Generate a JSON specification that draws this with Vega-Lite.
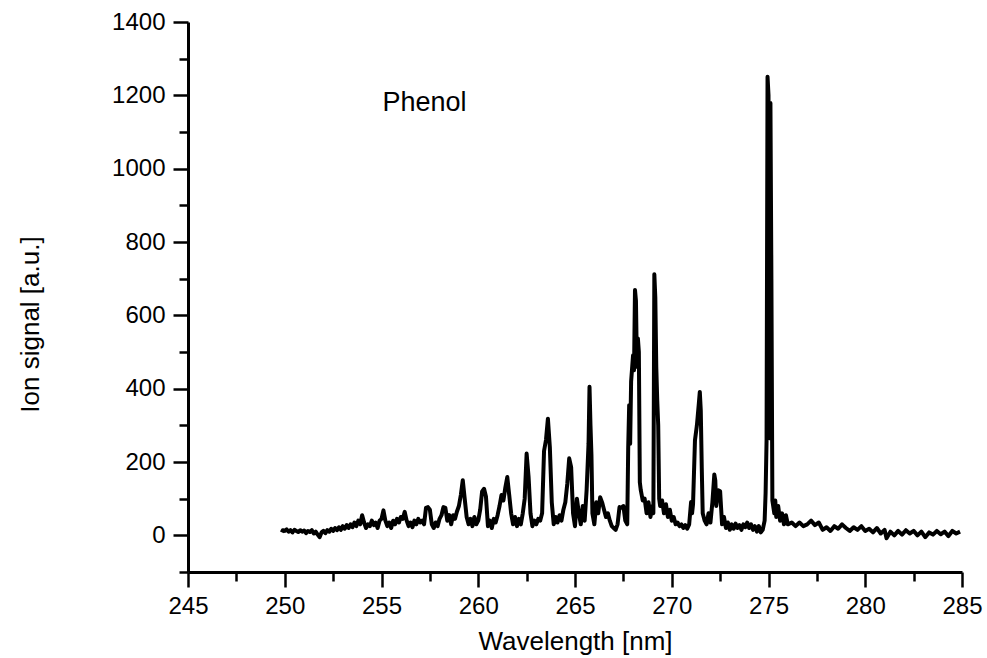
{
  "$schema": "https://vega.github.io/schema/vega-lite/v6.json",
  "width": 774,
  "height": 550,
  "autosize": {"type": "none"},
  "padding": {"left": 188, "top": 22, "right": 25, "bottom": 86},
  "background": "white",
  "config": {
    "view": {"stroke": null},
    "axis": {
      "grid": false,
      "domainColor": "black",
      "domainWidth": 3,
      "tickColor": "black",
      "tickWidth": 2.5,
      "labelColor": "black",
      "labelFont": "Liberation Sans",
      "labelFontSize": 24,
      "titleFont": "Liberation Sans",
      "titleFontSize": 26,
      "titleFontWeight": "normal",
      "titleColor": "black"
    }
  },
  "datasets": {
    "spectrum": [
      {"wl": 249.85, "signal": 8}, {"wl": 249.9, "signal": 14}, {"wl": 250.0, "signal": 12}, {"wl": 250.1, "signal": 16},
      {"wl": 250.2, "signal": 10}, {"wl": 250.3, "signal": 14}, {"wl": 250.4, "signal": 8}, {"wl": 250.5, "signal": 15},
      {"wl": 250.6, "signal": 12}, {"wl": 250.7, "signal": 9}, {"wl": 250.8, "signal": 14}, {"wl": 250.9, "signal": 10},
      {"wl": 251.0, "signal": 13}, {"wl": 251.1, "signal": 6}, {"wl": 251.2, "signal": 12}, {"wl": 251.3, "signal": 9},
      {"wl": 251.4, "signal": 14}, {"wl": 251.5, "signal": 5}, {"wl": 251.6, "signal": 10}, {"wl": 251.7, "signal": 2},
      {"wl": 251.8, "signal": -5}, {"wl": 251.9, "signal": 8}, {"wl": 252.0, "signal": 12}, {"wl": 252.1, "signal": 6},
      {"wl": 252.2, "signal": 14}, {"wl": 252.3, "signal": 10}, {"wl": 252.4, "signal": 18}, {"wl": 252.5, "signal": 12},
      {"wl": 252.6, "signal": 20}, {"wl": 252.7, "signal": 14}, {"wl": 252.8, "signal": 22}, {"wl": 252.9, "signal": 15},
      {"wl": 253.0, "signal": 25}, {"wl": 253.1, "signal": 18}, {"wl": 253.2, "signal": 28}, {"wl": 253.3, "signal": 20},
      {"wl": 253.4, "signal": 30}, {"wl": 253.5, "signal": 22}, {"wl": 253.6, "signal": 35}, {"wl": 253.7, "signal": 25},
      {"wl": 253.8, "signal": 40}, {"wl": 253.9, "signal": 30}, {"wl": 254.0, "signal": 55}, {"wl": 254.1, "signal": 35},
      {"wl": 254.2, "signal": 20}, {"wl": 254.3, "signal": 30}, {"wl": 254.4, "signal": 25}, {"wl": 254.5, "signal": 40},
      {"wl": 254.6, "signal": 28}, {"wl": 254.7, "signal": 35}, {"wl": 254.8, "signal": 20}, {"wl": 254.9, "signal": 40},
      {"wl": 255.0, "signal": 45}, {"wl": 255.1, "signal": 68}, {"wl": 255.2, "signal": 40}, {"wl": 255.3, "signal": 25},
      {"wl": 255.4, "signal": 35}, {"wl": 255.5, "signal": 20}, {"wl": 255.6, "signal": 40}, {"wl": 255.7, "signal": 30},
      {"wl": 255.8, "signal": 45}, {"wl": 255.9, "signal": 35}, {"wl": 256.0, "signal": 50}, {"wl": 256.1, "signal": 45},
      {"wl": 256.2, "signal": 64}, {"wl": 256.3, "signal": 40}, {"wl": 256.4, "signal": 25}, {"wl": 256.5, "signal": 35},
      {"wl": 256.6, "signal": 22}, {"wl": 256.7, "signal": 40}, {"wl": 256.8, "signal": 30}, {"wl": 256.9, "signal": 45},
      {"wl": 257.0, "signal": 35}, {"wl": 257.1, "signal": 40}, {"wl": 257.2, "signal": 30}, {"wl": 257.3, "signal": 75},
      {"wl": 257.4, "signal": 77}, {"wl": 257.5, "signal": 70}, {"wl": 257.6, "signal": 30}, {"wl": 257.7, "signal": 20},
      {"wl": 257.8, "signal": 35}, {"wl": 257.9, "signal": 25}, {"wl": 258.0, "signal": 45}, {"wl": 258.1, "signal": 55},
      {"wl": 258.2, "signal": 77}, {"wl": 258.3, "signal": 75}, {"wl": 258.4, "signal": 40}, {"wl": 258.5, "signal": 55},
      {"wl": 258.6, "signal": 30}, {"wl": 258.7, "signal": 55}, {"wl": 258.8, "signal": 45}, {"wl": 258.9, "signal": 65},
      {"wl": 259.0, "signal": 80}, {"wl": 259.1, "signal": 110}, {"wl": 259.2, "signal": 150}, {"wl": 259.3, "signal": 100},
      {"wl": 259.4, "signal": 50}, {"wl": 259.5, "signal": 30}, {"wl": 259.6, "signal": 45}, {"wl": 259.7, "signal": 25},
      {"wl": 259.8, "signal": 50}, {"wl": 259.9, "signal": 30}, {"wl": 260.0, "signal": 40}, {"wl": 260.1, "signal": 70},
      {"wl": 260.2, "signal": 120}, {"wl": 260.3, "signal": 127}, {"wl": 260.4, "signal": 105}, {"wl": 260.5, "signal": 25},
      {"wl": 260.6, "signal": 40}, {"wl": 260.7, "signal": 20}, {"wl": 260.8, "signal": 45}, {"wl": 260.9, "signal": 35},
      {"wl": 261.0, "signal": 55}, {"wl": 261.1, "signal": 80}, {"wl": 261.2, "signal": 110}, {"wl": 261.3, "signal": 95},
      {"wl": 261.4, "signal": 130}, {"wl": 261.5, "signal": 159}, {"wl": 261.6, "signal": 110}, {"wl": 261.7, "signal": 60},
      {"wl": 261.8, "signal": 30}, {"wl": 261.9, "signal": 50}, {"wl": 262.0, "signal": 25}, {"wl": 262.1, "signal": 45},
      {"wl": 262.2, "signal": 30}, {"wl": 262.3, "signal": 60}, {"wl": 262.4, "signal": 100}, {"wl": 262.5, "signal": 223},
      {"wl": 262.6, "signal": 160}, {"wl": 262.7, "signal": 60}, {"wl": 262.8, "signal": 25}, {"wl": 262.9, "signal": 40},
      {"wl": 263.0, "signal": 30}, {"wl": 263.1, "signal": 45}, {"wl": 263.2, "signal": 40}, {"wl": 263.3, "signal": 60},
      {"wl": 263.4, "signal": 230}, {"wl": 263.5, "signal": 260}, {"wl": 263.6, "signal": 318}, {"wl": 263.7, "signal": 240},
      {"wl": 263.8, "signal": 90}, {"wl": 263.9, "signal": 30}, {"wl": 264.0, "signal": 50}, {"wl": 264.1, "signal": 35},
      {"wl": 264.2, "signal": 55}, {"wl": 264.3, "signal": 40}, {"wl": 264.4, "signal": 70}, {"wl": 264.5, "signal": 90},
      {"wl": 264.6, "signal": 140}, {"wl": 264.7, "signal": 210}, {"wl": 264.8, "signal": 186}, {"wl": 264.9, "signal": 60},
      {"wl": 265.0, "signal": 25}, {"wl": 265.1, "signal": 100}, {"wl": 265.2, "signal": 60}, {"wl": 265.3, "signal": 30},
      {"wl": 265.4, "signal": 80}, {"wl": 265.5, "signal": 40}, {"wl": 265.6, "signal": 123}, {"wl": 265.7, "signal": 250},
      {"wl": 265.75, "signal": 405}, {"wl": 265.8, "signal": 300}, {"wl": 265.85, "signal": 218}, {"wl": 265.9, "signal": 60},
      {"wl": 266.0, "signal": 30}, {"wl": 266.1, "signal": 90}, {"wl": 266.2, "signal": 60}, {"wl": 266.3, "signal": 104},
      {"wl": 266.4, "signal": 90}, {"wl": 266.5, "signal": 70}, {"wl": 266.6, "signal": 50}, {"wl": 266.7, "signal": 60},
      {"wl": 266.8, "signal": 40}, {"wl": 266.9, "signal": 25}, {"wl": 267.0, "signal": 20}, {"wl": 267.1, "signal": 15},
      {"wl": 267.2, "signal": 30}, {"wl": 267.3, "signal": 77}, {"wl": 267.4, "signal": 75}, {"wl": 267.5, "signal": 80},
      {"wl": 267.6, "signal": 40}, {"wl": 267.7, "signal": 30}, {"wl": 267.75, "signal": 240}, {"wl": 267.8, "signal": 355},
      {"wl": 267.85, "signal": 250}, {"wl": 267.9, "signal": 420}, {"wl": 268.0, "signal": 491}, {"wl": 268.05, "signal": 450},
      {"wl": 268.1, "signal": 669}, {"wl": 268.15, "signal": 640}, {"wl": 268.2, "signal": 460}, {"wl": 268.25, "signal": 537},
      {"wl": 268.3, "signal": 500}, {"wl": 268.35, "signal": 145}, {"wl": 268.4, "signal": 123}, {"wl": 268.5, "signal": 95},
      {"wl": 268.6, "signal": 100}, {"wl": 268.7, "signal": 60}, {"wl": 268.8, "signal": 90}, {"wl": 268.9, "signal": 50},
      {"wl": 269.0, "signal": 80}, {"wl": 269.05, "signal": 60}, {"wl": 269.1, "signal": 712}, {"wl": 269.15, "signal": 650},
      {"wl": 269.2, "signal": 460}, {"wl": 269.25, "signal": 368}, {"wl": 269.3, "signal": 300}, {"wl": 269.35, "signal": 100},
      {"wl": 269.4, "signal": 80}, {"wl": 269.5, "signal": 95}, {"wl": 269.6, "signal": 60}, {"wl": 269.7, "signal": 85},
      {"wl": 269.8, "signal": 50}, {"wl": 269.9, "signal": 70}, {"wl": 270.0, "signal": 40}, {"wl": 270.1, "signal": 50},
      {"wl": 270.2, "signal": 30}, {"wl": 270.3, "signal": 35}, {"wl": 270.4, "signal": 25}, {"wl": 270.5, "signal": 30},
      {"wl": 270.6, "signal": 20}, {"wl": 270.7, "signal": 28}, {"wl": 270.8, "signal": 18}, {"wl": 270.9, "signal": 30},
      {"wl": 271.0, "signal": 91}, {"wl": 271.05, "signal": 60}, {"wl": 271.1, "signal": 85}, {"wl": 271.2, "signal": 259},
      {"wl": 271.3, "signal": 300}, {"wl": 271.4, "signal": 360}, {"wl": 271.45, "signal": 391}, {"wl": 271.5, "signal": 340},
      {"wl": 271.55, "signal": 186}, {"wl": 271.6, "signal": 60}, {"wl": 271.7, "signal": 40}, {"wl": 271.8, "signal": 30},
      {"wl": 271.9, "signal": 60}, {"wl": 272.0, "signal": 35}, {"wl": 272.1, "signal": 90}, {"wl": 272.2, "signal": 166},
      {"wl": 272.25, "signal": 150}, {"wl": 272.3, "signal": 80}, {"wl": 272.4, "signal": 123}, {"wl": 272.5, "signal": 120},
      {"wl": 272.6, "signal": 30}, {"wl": 272.7, "signal": 50}, {"wl": 272.8, "signal": 20}, {"wl": 272.9, "signal": 35},
      {"wl": 273.0, "signal": 15}, {"wl": 273.1, "signal": 30}, {"wl": 273.2, "signal": 18}, {"wl": 273.3, "signal": 32},
      {"wl": 273.4, "signal": 20}, {"wl": 273.5, "signal": 28}, {"wl": 273.6, "signal": 15}, {"wl": 273.7, "signal": 30},
      {"wl": 273.8, "signal": 22}, {"wl": 273.9, "signal": 35}, {"wl": 274.0, "signal": 20}, {"wl": 274.1, "signal": 30},
      {"wl": 274.2, "signal": 15}, {"wl": 274.3, "signal": 25}, {"wl": 274.4, "signal": 10}, {"wl": 274.5, "signal": 25},
      {"wl": 274.6, "signal": 8}, {"wl": 274.7, "signal": 15}, {"wl": 274.8, "signal": 40}, {"wl": 274.85, "signal": 115},
      {"wl": 274.9, "signal": 259}, {"wl": 274.95, "signal": 1251}, {"wl": 275.0, "signal": 1200}, {"wl": 275.05, "signal": 265},
      {"wl": 275.1, "signal": 1179}, {"wl": 275.15, "signal": 700}, {"wl": 275.2, "signal": 95}, {"wl": 275.3, "signal": 60},
      {"wl": 275.35, "signal": 95}, {"wl": 275.4, "signal": 50}, {"wl": 275.5, "signal": 80}, {"wl": 275.6, "signal": 40},
      {"wl": 275.7, "signal": 60}, {"wl": 275.8, "signal": 30}, {"wl": 275.9, "signal": 55}, {"wl": 276.0, "signal": 30},
      {"wl": 276.2, "signal": 35}, {"wl": 276.4, "signal": 25}, {"wl": 276.6, "signal": 35}, {"wl": 276.8, "signal": 25},
      {"wl": 277.0, "signal": 30}, {"wl": 277.2, "signal": 40}, {"wl": 277.4, "signal": 28}, {"wl": 277.6, "signal": 35},
      {"wl": 277.8, "signal": 15}, {"wl": 278.0, "signal": 22}, {"wl": 278.2, "signal": 12}, {"wl": 278.4, "signal": 25},
      {"wl": 278.6, "signal": 18}, {"wl": 278.8, "signal": 30}, {"wl": 279.0, "signal": 20}, {"wl": 279.2, "signal": 12},
      {"wl": 279.4, "signal": 22}, {"wl": 279.6, "signal": 15}, {"wl": 279.8, "signal": 25}, {"wl": 280.0, "signal": 12},
      {"wl": 280.2, "signal": 18}, {"wl": 280.4, "signal": 8}, {"wl": 280.6, "signal": 20}, {"wl": 280.8, "signal": 5},
      {"wl": 281.0, "signal": 15}, {"wl": 281.1, "signal": -8}, {"wl": 281.3, "signal": 10}, {"wl": 281.5, "signal": 0},
      {"wl": 281.7, "signal": 12}, {"wl": 281.9, "signal": 2}, {"wl": 282.1, "signal": 14}, {"wl": 282.3, "signal": 5},
      {"wl": 282.5, "signal": 12}, {"wl": 282.7, "signal": 0}, {"wl": 282.9, "signal": 10}, {"wl": 283.1, "signal": -5},
      {"wl": 283.3, "signal": 8}, {"wl": 283.5, "signal": 2}, {"wl": 283.7, "signal": 12}, {"wl": 283.9, "signal": 3},
      {"wl": 284.1, "signal": 10}, {"wl": 284.3, "signal": -2}, {"wl": 284.5, "signal": 12}, {"wl": 284.7, "signal": 5},
      {"wl": 284.9, "signal": 10}
    ],
    "labels": [
      {"wl": 255.05, "signal": 1180, "label": "Phenol"}
    ]
  },
  "layer": [
    {
      "data": {"name": "spectrum"},
      "mark": {"type": "line", "color": "black", "strokeWidth": 4, "strokeJoin": "round"},
      "encoding": {
        "x": {
          "field": "wl", "type": "quantitative",
          "scale": {"domain": [245, 285], "nice": false, "zero": false},
          "axis": {
            "title": "Wavelength [nm]",
            "format": "d",
            "values": [245, 250, 255, 260, 265, 270, 275, 280, 285],
            "tickSize": 15, "labelPadding": 7, "titlePadding": 10,
            "labelFlush": false, "labelOverlap": false
          }
        },
        "y": {
          "field": "signal", "type": "quantitative",
          "scale": {"domain": [-100, 1400], "nice": false, "zero": false},
          "axis": {
            "title": "Ion signal [a.u.]",
            "format": "d",
            "values": [0, 200, 400, 600, 800, 1000, 1200, 1400],
            "tickSize": 15, "labelPadding": 8, "titlePadding": 68,
            "titleY": 302,
            "labelFlush": false, "labelOverlap": false
          }
        }
      }
    },
    {
      "data": {"name": "labels"},
      "mark": {"type": "text", "align": "left", "baseline": "middle", "font": "Liberation Sans", "fontSize": 27, "color": "black"},
      "encoding": {
        "x": {
          "field": "wl", "type": "quantitative",
          "axis": {
            "orient": "bottom", "title": null, "labels": false, "domain": false,
            "values": [247.5, 252.5, 257.5, 262.5, 267.5, 272.5, 277.5, 282.5],
            "tickSize": 9
          }
        },
        "y": {
          "field": "signal", "type": "quantitative",
          "axis": {
            "orient": "left", "title": null, "labels": false, "domain": false,
            "values": [-100, 100, 300, 500, 700, 900, 1100, 1300],
            "tickSize": 9
          }
        },
        "text": {"field": "label"}
      }
    }
  ],
  "resolve": {"axis": {"x": "independent", "y": "independent"}}
}
